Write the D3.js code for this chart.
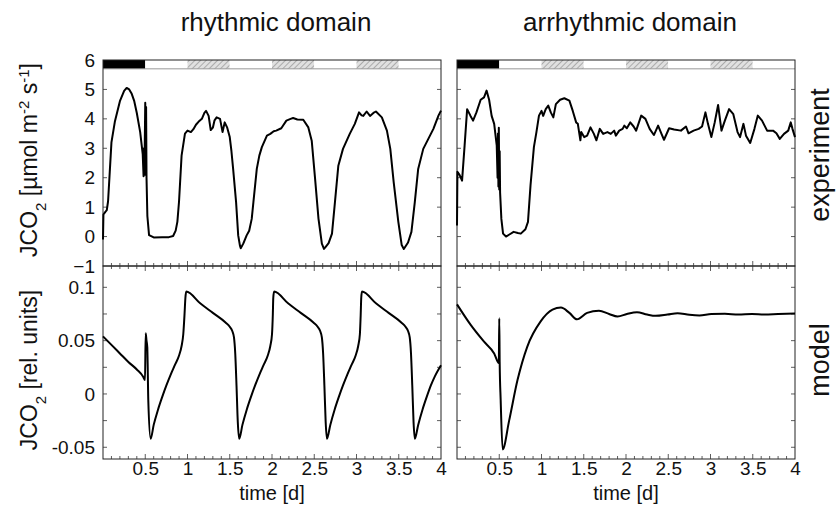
<!DOCTYPE html>
<html>
<head>
<meta charset="utf-8">
<script src="https://cdn.jsdelivr.net/npm/d3@7"></script>
<style>
  body { margin: 0; background: #fff; }
  text { font-family: "Liberation Sans", Arial, sans-serif; fill: #111; }
</style>
</head>
<body>
<script>
// measured CO2 flux, rhythmic domain [day, umol m-2 s-1]
var rhythmicExp = [
  [0, -0.1], [0.005, 0.75], [0.03, 0.85], [0.045, 0.9], [0.06, 1.2], [0.08, 2.2], [0.1, 3.2],
  [0.14, 3.9], [0.2, 4.6], [0.25, 4.95], [0.28, 5.05], [0.31, 5.0], [0.34, 4.85], [0.37, 4.6],
  [0.4, 4.2], [0.44, 3.55], [0.47, 2.8], [0.48, 2.05], [0.485, 3.0], [0.49, 2.1], [0.5, 4.55],
  [0.505, 2.1], [0.51, 4.4], [0.515, 2.0], [0.525, 0.7], [0.545, 0.05], [0.6, -0.03], [0.7, -0.02],
  [0.78, -0.02], [0.83, 0.02], [0.86, 0.2], [0.88, 0.5], [0.9, 1.2], [0.93, 2.75], [0.97, 3.5],
  [1.0, 3.6], [1.04, 3.55], [1.07, 3.65], [1.1, 3.8], [1.13, 3.9], [1.17, 4.0], [1.2, 4.2],
  [1.22, 4.27], [1.25, 4.1], [1.275, 3.62], [1.3, 3.7], [1.32, 3.95], [1.345, 4.05], [1.385, 4.0],
  [1.415, 3.55], [1.44, 3.88], [1.47, 3.7], [1.5, 3.38], [1.52, 2.9], [1.54, 2.3], [1.575, 1.17],
  [1.6, 0.04], [1.62, -0.3], [1.63, -0.4], [1.66, -0.24], [1.7, 0.04], [1.73, 0.2], [1.76, 0.6],
  [1.78, 1.17], [1.82, 2.3], [1.85, 2.75], [1.88, 3.04], [1.94, 3.43], [1.98, 3.49], [2.02, 3.58],
  [2.05, 3.6], [2.11, 3.68], [2.17, 3.94], [2.22, 4.0], [2.25, 4.03], [2.3, 3.98], [2.37, 3.97],
  [2.43, 3.71], [2.47, 3.26], [2.51, 1.96], [2.55, 0.61], [2.59, -0.24], [2.615, -0.42],
  [2.64, -0.33], [2.67, -0.22], [2.71, 0.1], [2.745, 1.17], [2.785, 2.41], [2.84, 2.98],
  [2.92, 3.49], [2.98, 3.83], [3.03, 4.22], [3.06, 4.12], [3.08, 4.1], [3.12, 4.25], [3.16, 4.1],
  [3.2, 4.2], [3.23, 4.25], [3.3, 4.05], [3.36, 3.6], [3.4, 2.98], [3.44, 1.85], [3.495, 0.5],
  [3.535, -0.29], [3.56, -0.42], [3.61, -0.2], [3.65, 0.16], [3.69, 1.17], [3.73, 2.3],
  [3.79, 2.98], [3.85, 3.32], [3.91, 3.66], [3.97, 4.11], [4.0, 4.28]
];

// measured CO2 flux, arrhythmic domain
var arrhythmicExp = [
  [0, 0.38], [0.005, 2.2], [0.03, 2.1], [0.06, 1.9], [0.09, 3.09], [0.12, 4.33], [0.16, 4.1],
  [0.19, 3.94], [0.23, 4.22], [0.28, 4.65], [0.32, 4.73], [0.35, 4.96], [0.38, 4.65], [0.41, 4.1],
  [0.44, 3.83], [0.47, 3.1], [0.48, 2.0], [0.485, 3.5], [0.49, 1.7], [0.495, 3.7], [0.5, 1.6],
  [0.505, 2.9], [0.51, 1.5], [0.525, 0.6], [0.545, 0.1], [0.58, 0.0], [0.62, 0.07], [0.67, 0.16],
  [0.72, 0.12], [0.755, 0.1], [0.81, 0.25], [0.84, 0.5], [0.87, 1.74], [0.91, 3.04], [0.94, 3.55],
  [0.97, 4.11], [1.0, 4.27], [1.02, 4.1], [1.05, 4.33], [1.08, 4.45], [1.11, 4.22], [1.14, 4.05],
  [1.17, 4.5], [1.22, 4.65], [1.27, 4.7], [1.33, 4.62], [1.37, 4.27], [1.41, 3.88], [1.43, 3.83],
  [1.46, 3.27], [1.47, 3.55], [1.505, 3.38], [1.54, 3.43], [1.58, 3.71], [1.62, 3.49], [1.65, 3.27],
  [1.69, 3.66], [1.73, 3.49], [1.78, 3.55], [1.82, 3.49], [1.86, 3.6], [1.88, 3.43], [1.92, 3.6],
  [1.96, 3.66], [1.98, 3.77], [2.01, 3.68], [2.05, 3.88], [2.09, 3.74], [2.12, 3.6], [2.18, 4.11],
  [2.23, 4.0], [2.28, 3.66], [2.33, 3.45], [2.38, 3.77], [2.42, 3.49], [2.45, 3.29], [2.51, 3.68],
  [2.57, 3.64], [2.65, 3.6], [2.71, 3.74], [2.74, 3.51], [2.8, 3.6], [2.86, 3.66], [2.9, 3.74],
  [2.94, 4.22], [2.97, 3.83], [3.01, 3.38], [3.05, 3.88], [3.09, 4.47], [3.13, 3.6], [3.17, 3.94],
  [3.22, 4.33], [3.27, 4.16], [3.32, 3.55], [3.35, 3.38], [3.39, 3.83], [3.42, 3.43], [3.47, 3.18],
  [3.52, 3.66], [3.56, 4.11], [3.61, 3.94], [3.67, 3.6], [3.74, 3.6], [3.78, 3.51], [3.82, 3.32],
  [3.87, 3.49], [3.92, 3.6], [3.95, 3.88], [3.97, 3.66], [4.0, 3.38]
];

// model output, rhythmic domain [day, rel. units]
var rhythmicModel = [
  [0, 0.054], [0.1, 0.046], [0.2, 0.038], [0.3, 0.030], [0.4, 0.023], [0.477, 0.016], [0.497, 0.013],
  [0.505, 0.057], [0.515, 0.050], [0.524, 0.044], [0.536, -0.006], [0.564, -0.042], [0.6, -0.029],
  [0.65, -0.015], [0.7, -0.003], [0.75, 0.008], [0.8, 0.018], [0.85, 0.027], [0.9, 0.036],
  [0.93, 0.045], [0.95, 0.056], [0.965, 0.075], [0.975, 0.090], [0.985, 0.096], [1.15, 0.085],
  [1.3, 0.076], [1.45, 0.067], [1.5, 0.063], [1.53, 0.059], [1.55, 0.053], [1.565, 0.038],
  [1.58, 0.008], [1.595, -0.026], [1.612, -0.042], [1.65, -0.029], [1.7, -0.015], [1.75, -0.003],
  [1.8, 0.008], [1.85, 0.018], [1.9, 0.027], [1.95, 0.036], [1.98, 0.045], [2.0, 0.056],
  [2.01, 0.075], [2.015, 0.090], [2.025, 0.096], [2.19, 0.085], [2.34, 0.076], [2.49, 0.067],
  [2.54, 0.063], [2.57, 0.059], [2.59, 0.053], [2.605, 0.038], [2.62, 0.008], [2.635, -0.026],
  [2.65, -0.042], [2.69, -0.029], [2.74, -0.015], [2.79, -0.003], [2.84, 0.008], [2.89, 0.018],
  [2.94, 0.027], [2.99, 0.036], [3.02, 0.045], [3.04, 0.056], [3.05, 0.075], [3.056, 0.090],
  [3.065, 0.096], [3.23, 0.085], [3.38, 0.076], [3.53, 0.067], [3.58, 0.063], [3.61, 0.059],
  [3.63, 0.053], [3.645, 0.038], [3.66, 0.008], [3.675, -0.026], [3.69, -0.042], [3.73, -0.029],
  [3.78, -0.015], [3.83, -0.003], [3.88, 0.008], [3.93, 0.017], [4.0, 0.027]
];

// model output, arrhythmic domain
var arrhythmicModel = [
  [0, 0.084], [0.16, 0.065], [0.32, 0.049], [0.44, 0.038], [0.495, 0.029], [0.5, 0.071],
  [0.505, 0.030], [0.517, -0.006], [0.54, -0.052], [0.617, -0.025], [0.716, 0.013], [0.83, 0.044],
  [0.99, 0.068], [1.13, 0.079], [1.23, 0.081], [1.33, 0.076], [1.42, 0.070], [1.54, 0.076],
  [1.68, 0.078], [1.8, 0.075], [1.9, 0.0726], [2.01, 0.075], [2.13, 0.0767], [2.25, 0.0745],
  [2.35, 0.0733], [2.49, 0.0745], [2.61, 0.0758], [2.75, 0.0742], [2.87, 0.0736], [3.01, 0.075],
  [3.17, 0.0752], [3.33, 0.0745], [3.49, 0.075], [3.64, 0.0745], [3.8, 0.075], [4.0, 0.0755]
];

// light regime bar: dark period, then subjective nights (hatched)
var barStart = [0, 0.5, 1.0, 1.5, 2.0, 2.5, 3.0, 3.5];
var barEnd   = [0.5, 1.0, 1.5, 2.0, 2.5, 3.0, 3.5, 4.0];
var barKind  = ["dark", "light", "night", "light", "night", "light", "night", "light"];

var xTicks = [0.5, 1, 1.5, 2, 2.5, 3, 3.5, 4];
var expTicks = [6, 5, 4, 3, 2, 1, 0, -1];
var modelTicks = [0.1, 0.05, 0, -0.05];

var columns = [
  { title: "rhythmic domain", exp: rhythmicExp, model: rhythmicModel, left: 103, labels: true },
  { title: "arrhythmic domain", exp: arrhythmicExp, model: arrhythmicModel, left: 457, labels: false }
];

var W = 837, H = 508, panelW = 338;
var topY0 = 60, midY = 266, botY = 459;

var svg = d3.select("body").append("svg")
  .attr("width", W).attr("height", H);

var defs = svg.append("defs");
var pat = defs.append("pattern")
  .attr("id", "hatch").attr("patternUnits", "userSpaceOnUse")
  .attr("width", 4).attr("height", 4)
  .attr("patternTransform", "rotate(45)");
pat.append("rect").attr("width", 4).attr("height", 4).attr("fill", "#e0e0e0");
pat.append("line").attr("x1", 0).attr("y1", 0).attr("x2", 0).attr("y2", 4)
  .attr("stroke", "#888").attr("stroke-width", 1.2);

var yExp = d3.scaleLinear().domain([-1, 6]).range([midY, topY0]);
var yMod = d3.scaleLinear().domain([-0.061, 0.12]).range([botY, midY]);

columns.forEach(function(c) {
  var x = d3.scaleLinear().domain([0, 4]).range([c.left, c.left + panelW]);
  var g = svg.append("g");

  // title
  g.append("text")
    .attr("x", c.left + panelW / 2 + 4).attr("y", 31)
    .attr("text-anchor", "middle").style("font-size", "26px")
    .text(c.title);

  // light bar
  g.selectAll(".bar").data(barStart).enter().append("rect")
    .attr("x", function(d) { return x(d); })
    .attr("width", function(d, i) { return x(barEnd[i]) - x(d); })
    .attr("y", yExp(6)).attr("height", yExp(5.7) - yExp(6))
    .attr("fill", function(d, i) {
      return barKind[i] == "dark" ? "#000" : barKind[i] == "night" ? "url(#hatch)" : "#fff";
    });
  g.append("line")
    .attr("x1", x(0)).attr("x2", x(4)).attr("y1", yExp(5.7)).attr("y2", yExp(5.7))
    .attr("stroke", "#999").attr("stroke-width", 1);

  // frames
  g.append("rect").attr("x", x(0)).attr("y", topY0)
    .attr("width", panelW).attr("height", midY - topY0)
    .attr("fill", "none").attr("stroke", "#222").attr("stroke-width", 1);
  g.append("rect").attr("x", x(0)).attr("y", midY)
    .attr("width", panelW).attr("height", botY - midY)
    .attr("fill", "none").attr("stroke", "#222").attr("stroke-width", 1);

  // inward ticks on every edge
  var minorX = d3.range(1, 40).map(function(i) { return i / 10; });
  [[midY, -1], [midY, 1], [botY, -1]].forEach(function(e) {
    g.selectAll(null).data(minorX).enter().append("line")
      .attr("x1", function(d) { return x(d); }).attr("x2", function(d) { return x(d); })
      .attr("y1", e[0])
      .attr("y2", function(d) { return e[0] + e[1] * (Math.abs(d * 2 - Math.round(d * 2)) < 1e-6 ? 5 : 3); })
      .attr("stroke", "#333").attr("stroke-width", 0.8);
  });
  var expMinor = d3.range(0, 6).map(function(i) { return i; });
  var modMinor = d3.range(-2, 5).map(function(i) { return i * 0.025; });
  [x(0), x(4)].forEach(function(px, k) {
    var dir = k == 0 ? 1 : -1;
    g.selectAll(null).data(expMinor).enter().append("line")
      .attr("x1", px).attr("x2", px + dir * 4)
      .attr("y1", function(d) { return yExp(d); }).attr("y2", function(d) { return yExp(d); })
      .attr("stroke", "#333").attr("stroke-width", 0.8);
    g.selectAll(null).data(modMinor).enter().append("line")
      .attr("x1", px).attr("x2", px + dir * 4)
      .attr("y1", function(d) { return yMod(d); }).attr("y2", function(d) { return yMod(d); })
      .attr("stroke", "#333").attr("stroke-width", 0.8);
  });

  // x axis labels
  var xAxis = d3.axisBottom(x).tickValues(xTicks).tickSize(0).tickPadding(0)
    .tickFormat(function(d) { return String(d); });
  var xa = g.append("g").attr("transform", "translate(0," + (botY + 16) + ")").call(xAxis);
  xa.select(".domain").remove();
  xa.selectAll("text").style("font-size", "19px").attr("dy", 0).attr("fill", "#111");

  g.append("text")
    .attr("x", c.left + panelW / 2).attr("y", 500)
    .attr("text-anchor", "middle").style("font-size", "20px")
    .text("time [d]");

  if (c.labels) {
    var ya = g.append("g").attr("transform", "translate(" + (x(0) - 8) + ",0)")
      .call(d3.axisLeft(yExp).tickValues(expTicks).tickSize(0).tickPadding(0)
        .tickFormat(function(d) { return d < 0 ? "\u2212" + Math.abs(d) : String(d); }));
    ya.select(".domain").remove();
    ya.selectAll("text").style("font-size", "19px").attr("fill", "#111");

    var yb = g.append("g").attr("transform", "translate(" + (x(0) - 8) + ",0)")
      .call(d3.axisLeft(yMod).tickValues(modelTicks).tickSize(0).tickPadding(0)
        .tickFormat(function(d) { return String(d); }));
    yb.select(".domain").remove();
    yb.selectAll("text").style("font-size", "19px").attr("fill", "#111");
  }

  // curves
  var lineExp = d3.line()
    .x(function(d) { return x(d[0]); })
    .y(function(d) { return yExp(d[1]); });
  var lineMod = d3.line()
    .x(function(d) { return x(d[0]); })
    .y(function(d) { return yMod(d[1]); })
    .curve(d3.curveMonotoneX);

  g.append("path").datum(c.exp).attr("d", lineExp)
    .attr("fill", "none").attr("stroke", "#000").attr("stroke-width", 2)
    .attr("stroke-linejoin", "round");
  g.append("path").datum(c.model).attr("d", lineMod)
    .attr("fill", "none").attr("stroke", "#000").attr("stroke-width", 2)
    .attr("stroke-linejoin", "round");
});

// y axis titles
var t1 = svg.append("text")
  .attr("transform", "translate(37,160) rotate(-90)")
  .attr("text-anchor", "middle").style("font-size", "23px");
t1.append("tspan").text("JCO");
t1.append("tspan").attr("baseline-shift", "sub").style("font-size", "15px").text("2");
t1.append("tspan").text(" [\u00b5mol m");
t1.append("tspan").attr("baseline-shift", "super").style("font-size", "15px").text("-2");
t1.append("tspan").text(" s");
t1.append("tspan").attr("baseline-shift", "super").style("font-size", "15px").text("-1");
t1.append("tspan").text("]");

var t2 = svg.append("text")
  .attr("transform", "translate(37,370) rotate(-90)")
  .attr("text-anchor", "middle").style("font-size", "23px");
t2.append("tspan").text("JCO");
t2.append("tspan").attr("baseline-shift", "sub").style("font-size", "15px").text("2");
t2.append("tspan").text(" [rel. units]");

// row labels
svg.append("text")
  .attr("transform", "translate(829,155) rotate(-90)")
  .attr("text-anchor", "middle").style("font-size", "27px")
  .text("experiment");
svg.append("text")
  .attr("transform", "translate(829,360) rotate(-90)")
  .attr("text-anchor", "middle").style("font-size", "27px")
  .text("model");
</script>
</body>
</html>
